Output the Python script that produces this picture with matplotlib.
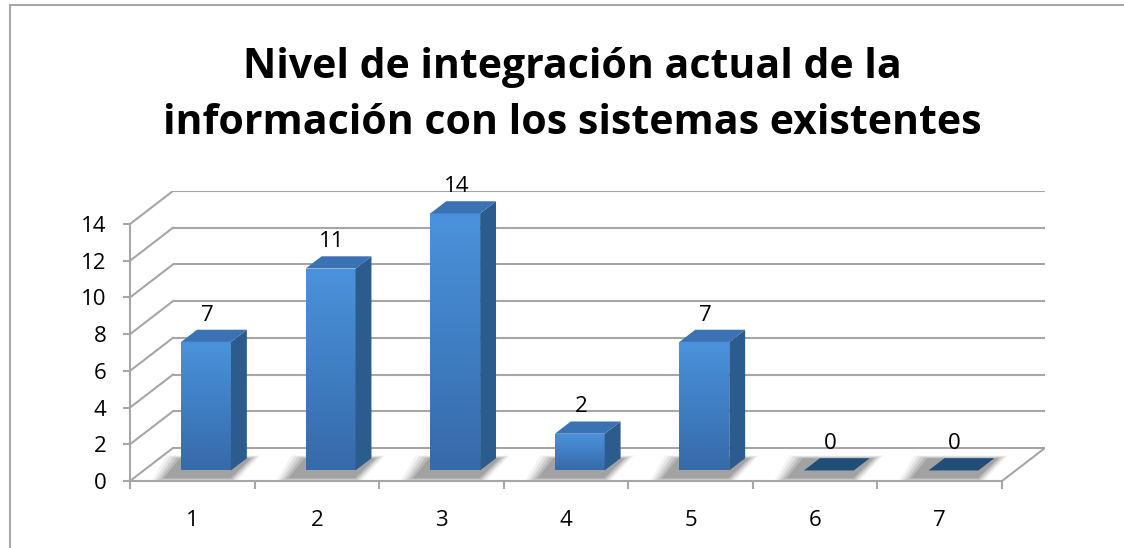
import matplotlib
matplotlib.use("Agg")
import matplotlib.pyplot as plt
import numpy as np
from matplotlib.patches import Polygon
from matplotlib.lines import Line2D

categories = ["1", "2", "3", "4", "5", "6", "7"]
values = [7, 11, 14, 2, 7, 0, 0]
yticks = [0, 2, 4, 6, 8, 10, 12, 14]
title_lines = ["Nivel de integración actual de la", "información con los sistemas existentes"]

W, H = 1124, 548
fig = plt.figure(figsize=(W / 100, H / 100), dpi=100)
plt.rcParams['font.family'] = ['Open Sans', 'DejaVu Sans']

# oblique 3D projection parameters (data units)
DX = 0.345   # depth shift in category units
DY = 1.80    # depth shift in value units
x0, x1 = 0.5, len(categories) + 0.5
vmax = 14

# axes placed in pixels: left 130 -> right 1045, bottom 481 -> top 191
L, R, B, T = 130, 1045, 481, 191
ax = fig.add_axes([L / W, 1 - B / H, (R - L) / W, (B - T) / H])
ax.set_xlim(x0, x1 + DX)
ax.set_ylim(0, vmax + DY)
ax.patch.set_alpha(0)

grid_c = "#a6a6a6"
lw = 1.5
# back wall gridlines and side wall diagonals
for v in yticks:
    ax.plot([x0 + DX, x1 + DX], [v + DY, v + DY], color=grid_c, lw=lw, zorder=1, solid_capstyle='butt')
    ax.plot([x0, x0 + DX], [v, v + DY], color=grid_c, lw=lw, zorder=1)
# right floor edge
ax.plot([x1, x1 + DX], [0, DY], color=grid_c, lw=lw, zorder=1)

# spines / ticks
for s in ["top", "right"]:
    ax.spines[s].set_visible(False)
ax.spines["left"].set_bounds(0, vmax)
ax.spines["bottom"].set_bounds(x0, x1)
for s in ["left", "bottom"]:
    ax.spines[s].set_color(grid_c)
    ax.spines[s].set_linewidth(lw)
ax.set_yticks(yticks)
ax.set_yticklabels([str(v) for v in yticks])
ax.tick_params(axis='y', length=5, width=lw, color=grid_c, pad=12, labelsize=16)
ax.set_xticks(np.arange(x0, x1 + 0.01, 1.0))
ax.set_xticklabels([])
ax.set_xticks(np.arange(1, len(categories) + 1), minor=True)
ax.set_xticklabels(categories, minor=True)
ax.tick_params(axis='x', which='major', length=6, width=lw, color=grid_c)
ax.tick_params(axis='x', which='minor', length=0, pad=21, labelsize=16)

# bars
d0, dd = 0.32, 0.37
w = 0.40
front_top = np.array([0x4a, 0x93, 0xdc]) / 255
front_bot = np.array([0x36, 0x6a, 0xaa]) / 255
side_c = "#2c5b8e"
top_c = "#3a72b3"
flat_c = "#1f4e79"

grad = np.linspace(0, 1, 256)[:, None]
grad_img = front_bot[None, None, :] * (1 - grad[..., None]) + front_top[None, None, :] * grad[..., None]
grad_img = np.repeat(grad_img, 2, axis=1)

for i, h in enumerate(values):
    cx = i + 1 + d0 * DX
    b = d0 * DY
    xl, xr = cx - w / 2, cx + w / 2
    # soft shadow on floor
    for k, a in enumerate([0.06, 0.09, 0.12, 0.15, 0.18]):
        e = 0.11 - k * 0.02
        sx = -0.10 - e * 0.3
        poly = [(xl + sx - e, b - 0.35 - e * 2.5), (xr + sx * 0.2 + e * 0.6, b - 0.35 - e * 2.5),
                (xr + dd * DX + e, b + dd * DY * 0.9 + e * 2), (xl + dd * DX + sx - e, b + dd * DY * 0.9 + e * 2)]
        ax.add_patch(Polygon(poly, closed=True, facecolor='#404040', edgecolor='none', alpha=a, zorder=2))
    if h > 0:
        bars = ax.bar(cx, h, width=w, bottom=b, color=front_top, edgecolor='none', zorder=3)
        im = ax.imshow(grad_img, extent=[xl, xr, b, b + h], origin='lower', aspect='auto',
                       zorder=3.5, interpolation='bilinear')
        im.set_clip_path(bars.patches[0])
        side = [(xr, b), (xr + dd * DX, b + dd * DY), (xr + dd * DX, b + h + dd * DY), (xr, b + h)]
        ax.add_patch(Polygon(side, closed=True, facecolor=side_c, edgecolor='none', zorder=4))
        top = [(xl, b + h), (xr, b + h), (xr + dd * DX, b + h + dd * DY), (xl + dd * DX, b + h + dd * DY)]
        ax.add_patch(Polygon(top, closed=True, facecolor=top_c, edgecolor='none', zorder=4))
    else:
        top = [(xl, b), (xr, b), (xr + dd * DX, b + dd * DY), (xl + dd * DX, b + dd * DY)]
        ax.add_patch(Polygon(top, closed=True, facecolor=flat_c, edgecolor='none', zorder=4))
    ax.text(cx + 0.01, h + b + dd * DY + 0.8, str(h), ha='center', va='center', fontsize=16,
            color='black', zorder=5)

ax.set_xlim(x0, x1 + DX)
ax.set_ylim(0, vmax + DY)

# title (two baselines as in the reference)
for line, yb in zip(title_lines, [78, 134]):
    fig.text(572 / W, 1 - yb / H, line, ha='center', va='baseline', fontsize=29.5,
             fontweight='bold', color='black')

# chart area border
fig.add_artist(Line2D([10 / W, 1], [1 - 5 / H, 1 - 5 / H], color='#a6a6a6', lw=1.5, transform=fig.transFigure))
fig.add_artist(Line2D([10 / W, 10 / W], [0, 1 - 5 / H], color='#a6a6a6', lw=1.5, transform=fig.transFigure))

fig.savefig("out.png", dpi=100)
